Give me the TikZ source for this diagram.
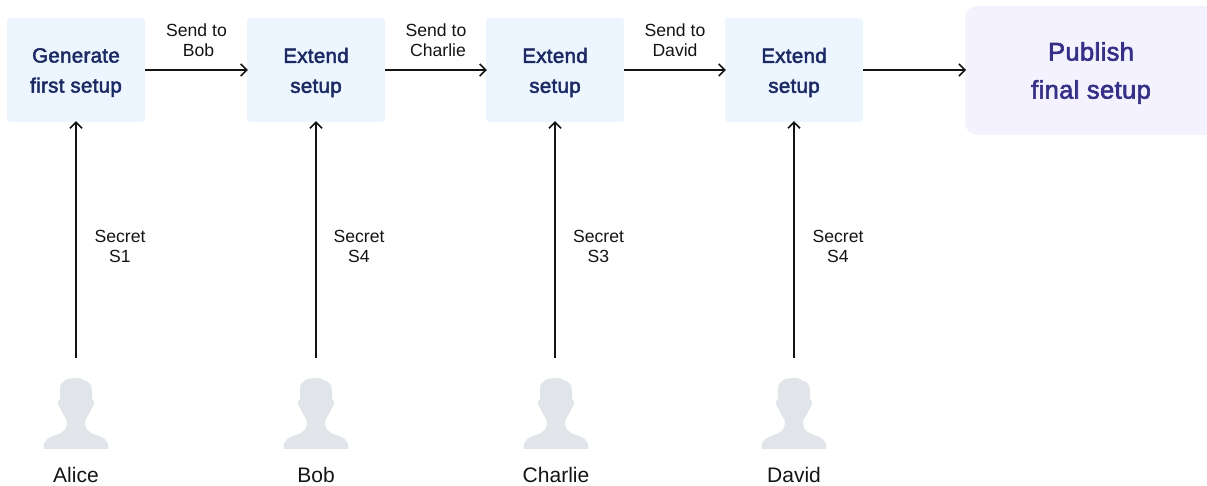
\documentclass[tikz,border=0pt]{standalone}
\usepackage{fontspec}
\setmainfont{Liberation Sans}
\newfontfamily\semibold[FakeBold=2.4,LetterSpace=1.5]{Liberation Sans}
\usetikzlibrary{arrows.meta}
\definecolor{boxblue}{HTML}{EDF5FF}
\definecolor{boxviolet}{HTML}{F3F2FE}
\definecolor{inkblue}{HTML}{1B2A63}
\definecolor{inkviolet}{HTML}{352F86}
\definecolor{person}{HTML}{E1E5E9}
\definecolor{ink}{HTML}{141414}
\tikzset{
  x=1pt,y=-1pt,
  flow/.style={draw=ink,line width=1.5pt,shorten >=-1pt,-{Straight Barb[length=6pt,width=12pt,line width=1.5pt]}},
  stepbox/.style={fill=boxblue,rounded corners=3pt,minimum width=138pt,minimum height=104pt,inner sep=0pt},
  steptext/.style={text=inkblue,align=center,inner sep=0pt,font=\fontsize{20.5}{30}\selectfont\semibold},
  finalbox/.style={fill=boxviolet,rounded corners=12pt,minimum width=270pt,minimum height=129pt,inner sep=0pt},
  finaltext/.style={text=inkviolet,align=center,inner sep=0pt,font=\fontsize{25.5}{38}\selectfont\semibold},
  note/.style={text=ink,align=center,inner sep=0pt,font=\fontsize{17.6}{20}\selectfont},
  who/.style={text=ink,inner sep=0pt,font=\fontsize{21}{24}\selectfont},
  pics/silhouette/.style={code={
    \fill[person] (-1,0)
      .. controls (3,-0.5) and (6,0) .. (8,2.5)
      .. controls (13,3) and (16,7) .. (16,13)
      -- (16,21)
      .. controls (19,22) and (18.5,28) .. (15,32)
      .. controls (13,38) and (9,40) .. (9,45)
      .. controls (9,52) and (14,55) .. (20,57)
      .. controls (27,59) and (32.5,62) .. (32.5,69)
      .. controls (32.5,71) and (32,71) .. (31,71)
      -- (-31,71)
      .. controls (-32,71) and (-32.5,71) .. (-32.5,69)
      .. controls (-32.5,62) and (-27,59) .. (-20,57)
      .. controls (-14,55) and (-9,52) .. (-9,45)
      .. controls (-9,40) and (-13,38) .. (-15,32)
      .. controls (-18.5,28) and (-19,22) .. (-16,21)
      -- (-16,11)
      .. controls (-16,3) and (-9,0) .. (-1,0) -- cycle;
  }}
}
\begin{document}
\begin{tikzpicture}
\useasboundingbox (0,0) rectangle (1207,486);
\node[stepbox] (gen) at (76,70) {};
\node[stepbox] (ext1) at (316,70) {};
\node[stepbox] (ext2) at (555,70) {};
\node[stepbox] (ext3) at (794,70) {};
\node[steptext] (gent) at (76,72.5) {Generate\\first setup};
\node[steptext] (ext1t) at (316,72.5) {Extend\\setup};
\node[steptext] (ext2t) at (555,72.5) {Extend\\setup};
\node[steptext] (ext3t) at (794,72.5) {Extend\\setup};
\begin{scope}
\clip (0,0) rectangle (1207,486);
\node[finalbox,anchor=west] (pub) at (965,70.5) {};
\end{scope}
\node[finaltext] (pubtext) at (1091,73) {Publish\\final setup};
\draw[flow] (gen.east) -- (ext1.west);
\draw[flow] (ext1.east) -- (ext2.west);
\draw[flow] (ext2.east) -- (ext3.west);
\draw[flow] (ext3.east) -- (pub.west |- ext3.east);
\node[note] (n1) at (196.5,40) {Send to\\\hspace*{4pt}Bob};
\node[note] (n2) at (436,40) {Send to\\\hspace*{4pt}Charlie};
\node[note] (n3) at (675,40) {Send to\\David};
\coordinate (a) at (76,358);
\coordinate (b) at (316,358);
\coordinate (c) at (555,358);
\coordinate (d) at (794,358);
\draw[flow] (a) -- (gen.south);
\draw[flow] (b) -- (ext1.south);
\draw[flow] (c) -- (ext2.south);
\draw[flow] (d) -- (ext3.south);
\node[note] (s1) at (120,246) {Secret\\S1};
\node[note] (s2) at (359,246) {Secret\\S4};
\node[note] (s3) at (598.5,246) {Secret\\S3};
\node[note] (s4) at (838,246) {Secret\\S4};
\pic at (76,378) {silhouette};
\pic at (316,378) {silhouette};
\pic at (556,378) {silhouette};
\pic at (794,378) {silhouette};
\node[who] (alice) at (76,475) {Alice};
\node[who] (bob) at (316,475) {Bob};
\node[who] (charlie) at (556,475) {Charlie};
\node[who] (david) at (794,475) {David};
\end{tikzpicture}
\end{document}
